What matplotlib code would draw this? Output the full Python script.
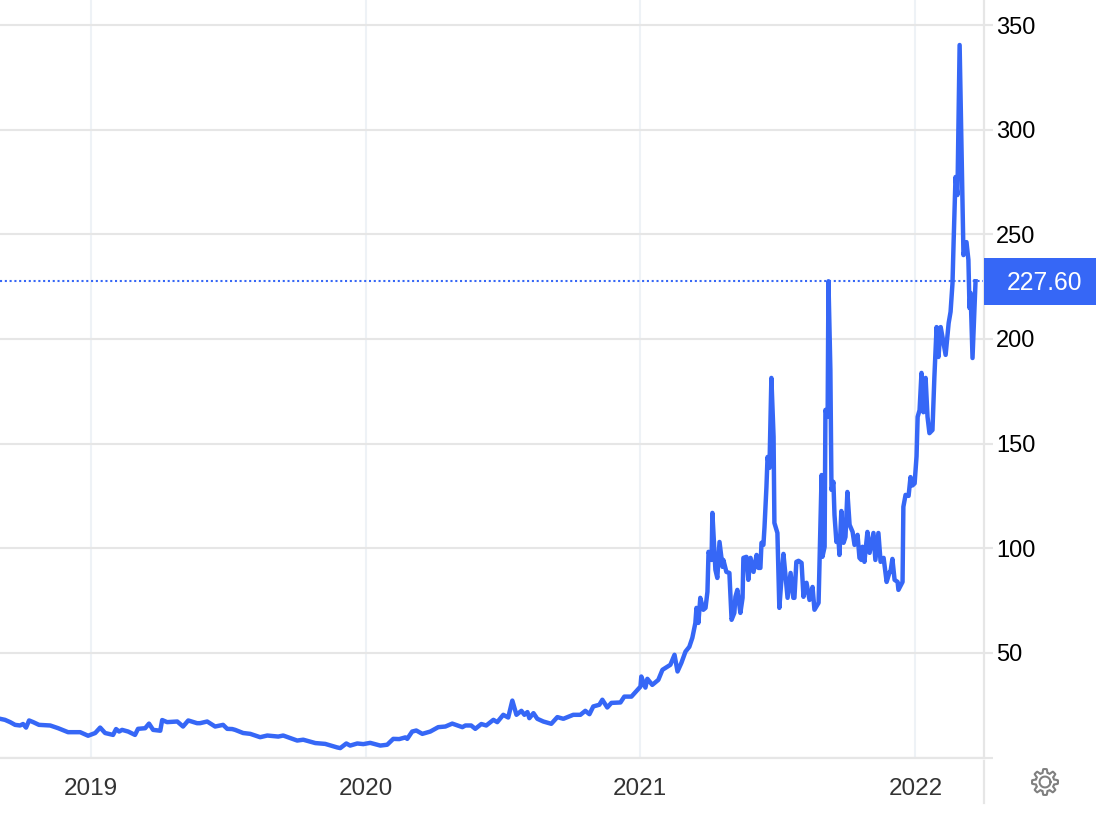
import numpy as np
import matplotlib
matplotlib.use('Agg')
import matplotlib.pyplot as plt
from matplotlib.patches import Rectangle

plt.rcParams['font.family'] = ['Liberation Sans', 'DejaVu Sans']

# values, x in decimal years
years_2018 = [2018.668, 2018.686, 2018.705, 2018.723, 2018.741, 2018.752, 2018.763, 2018.774, 2018.789, 2018.810,
              2018.851, 2018.880, 2018.916, 2018.960, 2018.989]
values_2018 = [18.5, 18.0, 16.9, 15.6, 15.3, 16.0, 14.3, 17.7, 16.9, 15.6,
               15.3, 14.0, 12.1, 12.1, 10.4]

years_2019 = [2019.015, 2019.033, 2019.051, 2019.080, 2019.091, 2019.102, 2019.113, 2019.135, 2019.160, 2019.171,
              2019.197, 2019.211, 2019.226, 2019.252, 2019.259, 2019.277, 2019.314, 2019.335, 2019.354, 2019.386,
              2019.397, 2019.423, 2019.452, 2019.481, 2019.496, 2019.514, 2019.525, 2019.554, 2019.580, 2019.616,
              2019.642, 2019.682, 2019.700, 2019.751, 2019.773, 2019.817, 2019.853, 2019.897, 2019.908, 2019.930,
              2019.944, 2019.970, 2019.992]
values_2019 = [11.7, 14.3, 11.7, 10.8, 13.6, 12.4, 13.2, 12.4, 10.8, 13.7,
               14.0, 16.2, 13.2, 12.8, 17.9, 16.9, 17.2, 14.8, 17.7, 16.4,
               16.4, 17.2, 14.8, 15.6, 13.7, 13.6, 13.2, 11.7, 11.3, 9.7,
               10.5, 10.0, 10.5, 8.1, 8.5, 6.9, 6.5, 4.8, 4.5, 6.7,
               5.7, 6.7, 6.4]

years_2020 = [2020.017, 2020.054, 2020.079, 2020.101, 2020.123, 2020.145, 2020.152, 2020.170, 2020.185, 2020.207,
              2020.236, 2020.265, 2020.291, 2020.316, 2020.353, 2020.364, 2020.385, 2020.400, 2020.422, 2020.440,
              2020.466, 2020.480, 2020.502, 2020.520, 2020.535, 2020.550, 2020.568, 2020.579, 2020.590, 2020.597,
              2020.612, 2020.626, 2020.648, 2020.677, 2020.699, 2020.721, 2020.757, 2020.783, 2020.801, 2020.816,
              2020.830, 2020.852, 2020.863, 2020.881, 2020.896, 2020.929, 2020.943, 2020.969]
values_2020 = [7.0, 5.7, 6.1, 8.9, 8.8, 9.6, 8.9, 12.4, 12.9, 11.3,
               12.4, 14.5, 14.8, 16.2, 14.5, 15.3, 15.3, 13.7, 16.0, 15.3,
               18.0, 16.9, 20.4, 19.1, 27.2, 20.4, 22.3, 20.4, 21.7, 18.8,
               21.2, 18.5, 17.2, 16.1, 19.3, 18.5, 20.4, 20.4, 22.3, 20.7,
               24.4, 25.2, 27.6, 23.9, 26.1, 26.3, 29.1, 29.1]

years_2021a = [2021.002, 2021.005, 2021.020, 2021.027, 2021.045, 2021.067, 2021.082, 2021.111, 2021.126, 2021.137,
               2021.151, 2021.166, 2021.180, 2021.191, 2021.202, 2021.206, 2021.213, 2021.220, 2021.231, 2021.239,
               2021.246, 2021.250, 2021.261, 2021.264, 2021.275, 2021.282, 2021.290, 2021.301, 2021.304, 2021.315,
               2021.326, 2021.334, 2021.344, 2021.348, 2021.355, 2021.366, 2021.374, 2021.377, 2021.388, 2021.395,
               2021.403, 2021.414, 2021.425, 2021.432, 2021.439, 2021.443, 2021.450, 2021.454, 2021.461, 2021.465,
               2021.472, 2021.479, 2021.487, 2021.490, 2021.501, 2021.508, 2021.519, 2021.523, 2021.538, 2021.549,
               2021.559, 2021.563, 2021.570, 2021.578, 2021.589, 2021.596, 2021.607, 2021.618, 2021.629, 2021.636,
               2021.651, 2021.662, 2021.665, 2021.673, 2021.676, 2021.684, 2021.687, 2021.694, 2021.698]
values_2021a = [33.9, 38.7, 33.4, 37.6, 34.7, 37.1, 41.9, 44.3, 49.1, 41.1,
                45.2, 50.6, 52.9, 57.2, 64.3, 71.5, 64.3, 76.3, 70.6, 71.5,
                79.2, 98.3, 94.4, 116.9, 89.7, 85.8, 103.0, 91.1, 94.4, 88.7,
                88.2, 65.8, 69.1, 76.8, 80.1, 69.1, 76.3, 95.4, 95.9, 84.9,
                95.4, 88.7, 96.8, 90.6, 90.6, 102.6, 101.6, 110.2, 129.3, 143.6,
                138.4, 181.4, 153.2, 112.1, 107.3, 71.5, 91.1, 97.3, 76.3, 88.2,
                76.3, 76.3, 93.5, 94.0, 93.0, 76.8, 83.5, 75.3, 81.5, 70.6,
                73.9, 135.0, 95.9, 100.7, 166.1, 162.8, 227.6, 185.2, 127.9]

years_2021b = [2021.705, 2021.709, 2021.716, 2021.723, 2021.727, 2021.734, 2021.742, 2021.749, 2021.756, 2021.764,
               2021.775, 2021.782, 2021.793, 2021.800, 2021.807, 2021.811, 2021.818, 2021.829, 2021.837, 2021.851,
               2021.858, 2021.869, 2021.877, 2021.888, 2021.899, 2021.910, 2021.913, 2021.920, 2021.928, 2021.939,
               2021.942, 2021.957, 2021.960, 2021.968, 2021.979, 2021.986, 2021.993]
values_2021b = [131.7, 115.9, 103.0, 105.4, 96.8, 117.8, 102.6, 105.4, 126.9, 111.2,
                107.8, 101.6, 106.4, 95.4, 94.4, 100.7, 93.5, 107.8, 97.8, 107.3,
                94.4, 107.3, 93.5, 95.4, 83.9, 88.7, 88.7, 94.9, 84.9, 83.9,
                80.1, 83.9, 119.8, 125.5, 125.0, 134.0, 130.0]

years_2022 = [2022.001, 2022.008, 2022.012, 2022.019, 2022.026, 2022.033, 2022.041, 2022.048, 2022.055, 2022.066,
              2022.073, 2022.081, 2022.088, 2022.096, 2022.114, 2022.125, 2022.132, 2022.139, 2022.143, 2022.150,
              2022.157, 2022.165, 2022.172, 2022.179, 2022.190, 2022.197, 2022.201, 2022.205, 2022.212, 2022.223]
values_2022 = [131.0, 143.9, 162.8, 166.0, 183.8, 165.0, 181.4, 162.8, 155.0, 156.5,
               181.8, 205.7, 191.4, 205.7, 192.4, 207.6, 213.0, 226.6, 245.9, 277.4,
               268.8, 340.5, 290.3, 240.1, 246.3, 237.8, 214.8, 222.0, 190.9, 227.6]

year_ticks = [2019, 2020, 2021, 2022.004]
year_labels = ['2019', '2020', '2021', '2022']
value_ticks = [50, 100, 150, 200, 250, 300, 350]
last_value = 227.60

x = years_2018 + years_2019 + years_2020 + years_2021a + years_2021b + years_2022
y = values_2018 + values_2019 + values_2020 + values_2021a + values_2021b + values_2022

blue = '#3667f6'
hgrid = '#e6e6e6'
vgrid = '#eef2f6'

fig = plt.figure(figsize=(10.96, 8.16), dpi=100)
ax = fig.add_axes([0, 1 - 757.5 / 816, 983.5 / 1096, 757.5 / 816])

ax.set_xlim(2018.668, 2022.252)
ax.set_ylim(0, 362)

ax.plot(x, y, color=blue, lw=3.2, solid_joinstyle='round', zorder=3)
ax.axhline(last_value, color=blue, lw=1.5, ls=(0, (1, 1.3)), zorder=2)

for s in ['top', 'left']:
    ax.spines[s].set_visible(False)
for s in ['right', 'bottom']:
    ax.spines[s].set_color(hgrid)
    ax.spines[s].set_linewidth(1.6)

ax.yaxis.tick_right()
ax.set_yticks([0] + value_ticks)
ax.set_yticklabels([''] + [str(v) for v in value_ticks])
ax.tick_params(axis='y', length=6.5, width=1.5, color=hgrid, labelsize=17, labelcolor='black', pad=2.5)
ax.set_xticks(year_ticks)
ax.set_xticklabels(year_labels)
ax.tick_params(axis='x', length=0, labelsize=17.5, labelcolor='#333333', pad=14.5)

ax.grid(axis='y', color=hgrid, lw=1.5)
ax.grid(axis='x', color=vgrid, lw=1.5)
ax.set_axisbelow(True)

# right border carries on down past the x axis
ax.plot([1, 1], [-0.0045, -0.0605], transform=ax.transAxes, color=hgrid, lw=1.6, clip_on=False)

# last value tag
fig.add_artist(Rectangle((984 / 1096, 1 - 305 / 816), 112 / 1096, 47 / 816, transform=fig.transFigure,
                         facecolor=blue, edgecolor='none'))
fig.text(1082 / 1096, 1 - 283.5 / 816, f'{last_value:.2f}', color='white', fontsize=17.7, ha='right', va='center')

# settings gear
gear = fig.add_axes([1031 / 1096, 1 - 796 / 816, 28 / 1096, 28 / 816])
gear.set_xlim(-1.08, 1.08)
gear.set_ylim(-1.08, 1.08)
gear.axis('off')
t = np.linspace(0, 2 * np.pi, 361)
gear_r = 0.86 + 0.14 * np.clip(2.2 * np.cos(8 * t), -1, 1)
gear.plot(gear_r * np.cos(t), gear_r * np.sin(t), color='#808080', lw=1.5)
gear.plot(0.42 * np.cos(t), 0.42 * np.sin(t), color='#808080', lw=1.5)

fig.savefig('out.png', dpi=100)
